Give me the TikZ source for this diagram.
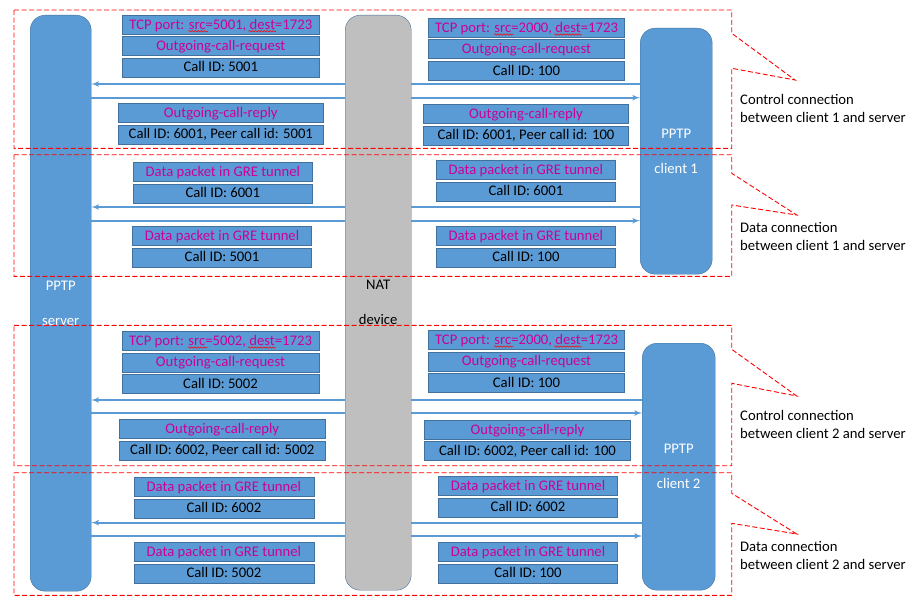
\documentclass[tikz,border=0pt]{standalone}
\usepackage{fontspec}
\setmainfont{Carlito}
\usetikzlibrary{arrows,positioning,decorations.pathmorphing}
\definecolor{boxblue}{RGB}{91,155,213}
\definecolor{boxedge}{RGB}{65,113,156}
\definecolor{natgray}{RGB}{191,191,191}
\definecolor{msgpink}{RGB}{204,0,153}
\tikzset{
    %Define standard arrow tip
    >=latex',
    %Define style for the tall columns
    host/.style={
           rectangle,
           rounded corners=15pt,
           draw=boxedge,
           fill=boxblue,
           text=white,
           align=center,
           anchor=north west},
    natdev/.style={
           host,
           fill=natgray,
           text=black},
    %Define style for message boxes
    msg/.style={
           rectangle,
           draw=boxedge,
           fill=boxblue,
           inner sep=0pt,
           minimum height=19pt,
           text height=11.5pt,
           text depth=2.5pt},
    hdr/.style={
           msg,
           text=msgpink},
    % Define arrow style
    pil/.style={
           draw=boxblue,
           line width=1.6pt},
    % Dashed frame round a connection
    zone/.style={
           draw=red,
           dash pattern=on 5pt off 2.5pt,
           line width=0.9pt},
    % red wavy mark under a word
    typo/.style={
           draw=red,
           line width=0.5pt,
           decorate,
           decoration={snake, amplitude=0.8pt, segment length=3pt}},
    note/.style={
           align=left,
           anchor=west,
           inner sep=0pt}
}
\begin{document}
\begin{tikzpicture}[x=1pt,y=-1pt,node distance=2pt,font=\fontsize{14.67}{17.6}\selectfont]
  \useasboundingbox (0,0) rectangle (918,610);
  % columns
  \node[host, minimum width=61pt, minimum height=576pt] (server) at (30,15) {PPTP\\[17.4pt]server};
  \node[natdev, minimum width=66pt, minimum height=575pt] (nat) at (345,15) {NAT\\[17.4pt]device};
  \node[host, minimum width=72pt, minimum height=246pt] (client1) at (640,28) {PPTP\\[17.4pt]client 1};
  \node[host, minimum width=73pt, minimum height=247pt] (client2) at (642,343) {PPTP\\[17.4pt]client 2};

  % control connection, client 1
  \node[hdr, minimum width=197pt] (tcp1l) at (220.8,24.6) {TCP port: src=5001, dest=1723};
  \node[hdr, minimum width=197pt, below=of tcp1l] (req1l) {Outgoing-call-request};
  \node[msg, minimum width=197pt, below=of req1l] (id1l) {Call ID: 5001};
  \node[hdr, minimum width=196pt] (tcp1r) at (526.5,27.8) {TCP port: src=2000, dest=1723};
  \node[hdr, minimum width=196pt, below=of tcp1r] (req1r) {Outgoing-call-request};
  \node[msg, minimum width=196pt, below=of req1r] (id1r) {Call ID: 100};
  \node[hdr, minimum width=205pt] (rep1l) at (220.8,112.8) {Outgoing-call-reply};
  \node[msg, minimum width=205pt, below=of rep1l] (pid1l) {Call ID: 6001, Peer call id: 5001};
  \node[hdr, minimum width=205pt] (rep1r) at (526,113.8) {Outgoing-call-reply};
  \node[msg, minimum width=205pt, below=of rep1r] (pid1r) {Call ID: 6001, Peer call id: 100};
  \draw[pil] (client1.west |- 0,84) -- (nat.east |- 0,84);
  \draw[pil,->] (nat.west |- 0,84) -- (server.east |- 0,84);
  \draw[pil] (server.east |- 0,97.7) -- (nat.west |- 0,97.7);
  \draw[pil,->] (nat.east |- 0,97.7) -- (client1.west |- 0,97.7);

  % data connection, client 1
  \node[hdr, minimum width=179pt] (gre1l) at (222.8,171.8) {Data packet in GRE tunnel};
  \node[msg, minimum width=179pt, below=of gre1l] (gid1l) {Call ID: 6001};
  \node[hdr, minimum width=179pt] (gre1r) at (525.9,169.8) {Data packet in GRE tunnel};
  \node[msg, minimum width=179pt, below=of gre1r] (gid1r) {Call ID: 6001};
  \node[hdr, minimum width=179pt] (gre1l') at (222,235.8) {Data packet in GRE tunnel};
  \node[msg, minimum width=179pt, below=of gre1l'] (gid1l') {Call ID: 5001};
  \node[hdr, minimum width=179pt] (gre1r') at (525.9,235.8) {Data packet in GRE tunnel};
  \node[msg, minimum width=179pt, below=of gre1r'] (gid1r') {Call ID: 100};
  \draw[pil] (client1.west |- 0,207) -- (nat.east |- 0,207);
  \draw[pil,->] (nat.west |- 0,207) -- (server.east |- 0,207);
  \draw[pil] (server.east |- 0,220.7) -- (nat.west |- 0,220.7);
  \draw[pil,->] (nat.east |- 0,220.7) -- (client1.west |- 0,220.7);

  % control connection, client 2
  \node[hdr, minimum width=197pt] (tcp2l) at (220.5,340.8) {TCP port: src=5002, dest=1723};
  \node[hdr, minimum width=197pt, below=of tcp2l] (req2l) {Outgoing-call-request};
  \node[msg, minimum width=197pt, below=of req2l] (id2l) {Call ID: 5002};
  \node[hdr, minimum width=196pt] (tcp2r) at (526.5,339.8) {TCP port: src=2000, dest=1723};
  \node[hdr, minimum width=196pt, below=of tcp2r] (req2r) {Outgoing-call-request};
  \node[msg, minimum width=196pt, below=of req2r] (id2r) {Call ID: 100};
  \node[hdr, minimum width=206pt] (rep2l) at (222.3,428.8) {Outgoing-call-reply};
  \node[msg, minimum width=206pt, below=of rep2l] (pid2l) {Call ID: 6002, Peer call id: 5002};
  \node[hdr, minimum width=206pt] (rep2r) at (527.5,429.5) {Outgoing-call-reply};
  \node[msg, minimum width=206pt, below=of rep2r] (pid2r) {Call ID: 6002, Peer call id: 100};
  \draw[pil] (client2.west |- 0,400) -- (nat.east |- 0,400);
  \draw[pil,->] (nat.west |- 0,400) -- (server.east |- 0,400);
  \draw[pil] (server.east |- 0,413) -- (nat.west |- 0,413);
  \draw[pil,->] (nat.east |- 0,413) -- (client2.west |- 0,413);

  % data connection, client 2
  \node[hdr, minimum width=180pt] (gre2l) at (223.9,486.8) {Data packet in GRE tunnel};
  \node[msg, minimum width=180pt, below=of gre2l] (gid2l) {Call ID: 6002};
  \node[hdr, minimum width=179pt] (gre2r) at (528,485.8) {Data packet in GRE tunnel};
  \node[msg, minimum width=179pt, below=of gre2r] (gid2r) {Call ID: 6002};
  \node[hdr, minimum width=180pt] (gre2l') at (223.9,551.8) {Data packet in GRE tunnel};
  \node[msg, minimum width=180pt, below=of gre2l'] (gid2l') {Call ID: 5002};
  \node[hdr, minimum width=179pt] (gre2r') at (528,551.8) {Data packet in GRE tunnel};
  \node[msg, minimum width=179pt, below=of gre2r'] (gid2r') {Call ID: 100};
  \draw[pil] (client2.west |- 0,522.7) -- (nat.east |- 0,522.7);
  \draw[pil,->] (nat.west |- 0,522.7) -- (server.east |- 0,522.7);
  \draw[pil] (server.east |- 0,536) -- (nat.west |- 0,536);
  \draw[pil,->] (nat.east |- 0,536) -- (client2.west |- 0,536);

  % spell-check marks under src and dest
  \foreach \t in {tcp1l,tcp1r,tcp2l,tcp2r} {
    \draw[typo] ([xshift=-32.5pt,yshift=-6.7pt]\t.center) -- ++(19.5,0);
    \draw[typo] ([xshift=27.5pt,yshift=-6.7pt]\t.center) -- ++(27.5,0);
  }

  % dashed frames with their pointers
  \draw[zone] (14,10) -- (731.7,10) -- (731.7,33.3) -- (795,80) -- (731.7,68.3) -- (731.7,148.3) -- (14,148.3) -- cycle;
  \draw[zone] (14,154.7) -- (731.7,154.7) -- (731.7,173.3) -- (796.7,215) -- (731.7,205) -- (731.7,276.3) -- (14,276.3) -- cycle;
  \draw[zone] (14,325.3) -- (731.7,325.3) -- (731.7,349.3) -- (796.7,396) -- (731.7,383.3) -- (731.7,465.7) -- (14,465.7) -- cycle;
  \draw[zone] (14,472.7) -- (731.7,472.7) -- (731.7,493.3) -- (796.7,534) -- (731.7,523.3) -- (731.7,595.3) -- (14,595.3) -- cycle;
  \node[note] (ctl1) at (740,108.3) {Control connection\\between client 1 and server};
  \node[note] (dat1) at (740,236.5) {Data connection\\between client 1 and server};
  \node[note] (ctl2) at (740,424.7) {Control connection\\between client 2 and server};
  \node[note] (dat2) at (740,555.7) {Data connection\\between client 2 and server};
\end{tikzpicture}
\end{document}
